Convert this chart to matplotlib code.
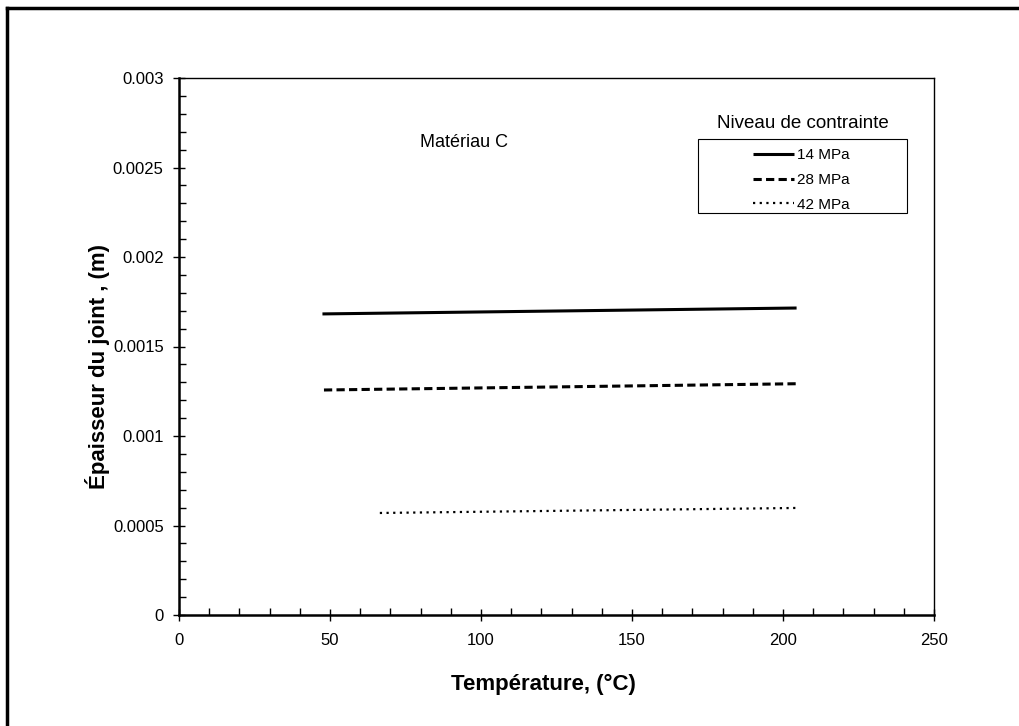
import matplotlib.pyplot as plt
from matplotlib.lines import Line2D
from matplotlib.patches import Rectangle
from matplotlib.ticker import MultipleLocator

plt.rcParams["font.family"] = ["Liberation Sans", "DejaVu Sans"]

# values
temp_14 = [47.5, 204.5]
thick_14 = [0.001682, 0.001715]
temp_28 = [48.0, 204.5]
thick_28 = [0.001257, 0.001292]
temp_42 = [66.5, 204.5]
thick_42 = [0.000570, 0.000598]

series_labels = ["14 MPa", "28 MPa", "42 MPa"]
x_ticks = [0, 50, 100, 150, 200, 250]
y_ticks = [0, 0.0005, 0.001, 0.0015, 0.002, 0.0025, 0.003]
y_tick_labels = ["0", "0.0005", "0.001", "0.0015", "0.002", "0.0025", "0.003"]

fig = plt.figure(figsize=(10.19, 7.26), dpi=100)
ax = fig.add_axes([179 / 1019, 1 - 615 / 726, (934 - 179) / 1019, (615 - 78) / 726])

h1, = ax.plot(temp_14, thick_14, color="black", lw=2.2, solid_capstyle="butt")
h2, = ax.plot(temp_28, thick_28, color="black", lw=2.2, ls=(0, (2.7, 1.4)))
h3, = ax.plot(temp_42, thick_42, color="black", lw=1.6, ls=(0, (1, 2)))

ax.set_xlim(0, 250)
ax.set_ylim(0, 0.003)
ax.set_xticks(x_ticks)
ax.set_xticklabels([str(v) for v in x_ticks])
ax.set_yticks(y_ticks)
ax.set_yticklabels(y_tick_labels)
ax.xaxis.set_minor_locator(MultipleLocator(10))
ax.yaxis.set_minor_locator(MultipleLocator(0.0001))
ax.tick_params(which="major", direction="inout", length=8, width=1, labelsize=12)
ax.tick_params(axis="x", which="major", pad=9)
ax.tick_params(axis="y", which="major", pad=7)
ax.tick_params(which="minor", direction="in", length=5, width=1)

for side in ["left", "bottom"]:
    ax.spines[side].set_linewidth(1.8)
for side in ["top", "right"]:
    ax.spines[side].set_linewidth(1.0)

ax.set_xlabel("Température, (°C)", fontsize=16, fontweight="bold")
ax.set_ylabel("Épaisseur du joint , (m)", fontsize=16, fontweight="bold")
ax.xaxis.set_label_coords(0.483, -0.109)
ax.yaxis.set_label_coords(-0.091, 0.462)

ax.text(0.378, 0.879, "Matériau C", transform=ax.transAxes, fontsize=13, ha="center", va="center")

# legend: title above a separate box
ax.text(0.826, 0.916, "Niveau de contrainte", transform=ax.transAxes, fontsize=13.5, ha="center", va="center")
box = Rectangle((0.687, 0.749), 0.277, 0.137, transform=ax.transAxes, fill=False, edgecolor="black", lw=0.8)
ax.add_patch(box)
ax.legend([h1, h2, h3], series_labels, loc="center", bbox_to_anchor=(0.824, 0.810),
          frameon=False, fontsize=11, handlelength=2.7, handletextpad=0.2, labelspacing=0.7,
          borderpad=0)

# outer frame (only left and top edges visible in reference)
fig.add_artist(Line2D([7 / 1019, 7 / 1019], [0, 1 - 8 / 726], transform=fig.transFigure, color="black", lw=2.5))
fig.add_artist(Line2D([7 / 1019, 1], [1 - 8 / 726, 1 - 8 / 726], transform=fig.transFigure, color="black", lw=2.5))

fig.savefig("out.png", dpi=100)
